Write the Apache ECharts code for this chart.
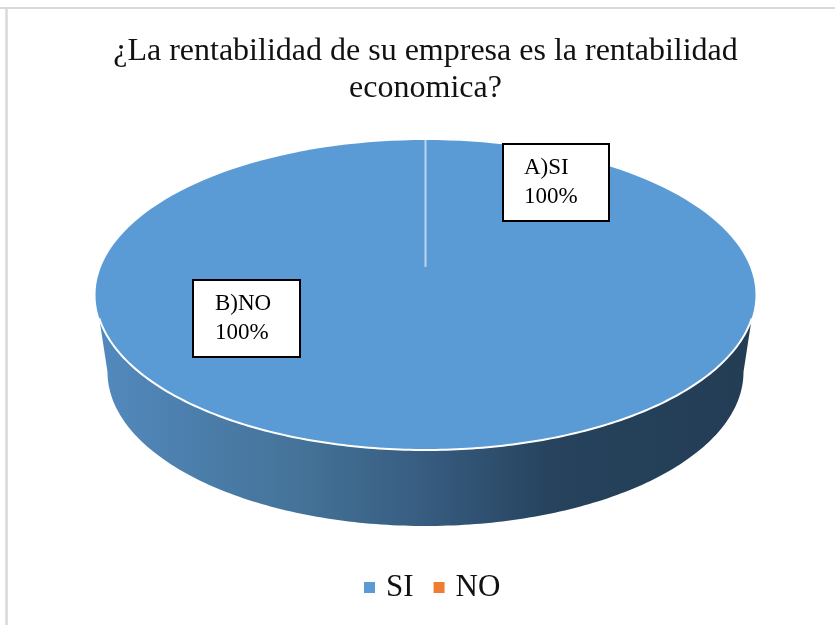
<!DOCTYPE html>
<html>
<head>
<meta charset="utf-8">
<script src="https://cdn.jsdelivr.net/npm/echarts@6/dist/echarts.min.js"></script>
<style>
  html, body { margin: 0; padding: 0; background: #fff; }
  #chart { width: 835px; height: 625px; }
</style>
</head>
<body>
<div id="chart"></div>
<script>
const titleText = '¿La rentabilidad de su empresa es la rentabilidad\neconomica?'
const categories = ['SI', 'NO']
const values = [100, 0]
const colors = ['#5b9bd5', '#ed7d31']
const boxLabels = ['A)SI\n100%', 'B)NO\n100%']

const serif = '"Liberation Serif", serif'
const total = values[0] + values[1]

// pie drawn with pixel geometry, ellipse for the 3D tilt
const cx = 425.5
const topCy = 295
const rxTop = 330
const ryTop = 155
const botCy = 372
const rxBot = 318
const ryBot = 154

function ringPoint(ccy, rx, ry, deg) {
  const a = (deg * Math.PI) / 180
  return [cx + rx * Math.cos(a), ccy + ry * Math.sin(a)]
}

function arcPoints(ccy, rx, ry, from, to) {
  const pts = []
  const steps = 180
  for (let i = 0; i <= steps; i++) {
    pts.push(ringPoint(ccy, rx, ry, from + ((to - from) * i) / steps))
  }
  return pts
}

function renderPie(params, api) {
  const idx = params.seriesIndex
  const val = api.value(0)
  if (!val) return { type: 'group', children: [] }
  const sweep = (val / total) * 360
  const top = arcPoints(topCy, rxTop, ryTop, -90, -90 + sweep)
  // front wall: lower edge of top ellipse + bottom ellipse back the other way
  const wall = arcPoints(topCy, rxTop, ryTop, 8.7, 171.3)
    .concat(arcPoints(botCy, rxBot, ryBot, 180, 0))
  const rim = arcPoints(topCy, rxTop, ryTop, 8.7, 171.3)
  return {
    type: 'group',
    children: [
      {
        type: 'polygon',
        shape: { points: wall },
        style: {
          fill: new echarts.graphic.LinearGradient(0, 0, 1, 0, [
            { offset: 0, color: '#5289bd' },
            { offset: 0.3, color: '#457399' },
            { offset: 0.5, color: '#375c80' },
            { offset: 0.7, color: '#26425c' },
            { offset: 1, color: '#233d55' }
          ])
        }
      },
      { type: 'polygon', shape: { points: top }, style: { fill: colors[idx] } },
      { type: 'polyline', shape: { points: rim }, style: { fill: 'none', stroke: '#fff', lineWidth: 2 } },
      {
        type: 'line',
        shape: { x1: cx, y1: topCy - ryTop, x2: cx, y2: 267 },
        style: { stroke: '#bcd5ec', lineWidth: 2 }
      }
    ]
  }
}

function labelBox(x, y, w, h, tx, text) {
  return {
    type: 'group',
    children: [
      { type: 'rect', shape: { x: x, y: y, width: w, height: h }, style: { fill: '#fff', stroke: '#000', lineWidth: 2 } },
      {
        type: 'text',
        style: { x: tx, y: y + 10, text: text, fill: '#000', font: '23px ' + serif, lineHeight: 28.5, textAlign: 'left', textVerticalAlign: 'top' }
      }
    ]
  }
}

const chart = echarts.init(document.getElementById('chart'), null, { renderer: 'canvas' })
chart.setOption({
  animation: false,
  backgroundColor: '#fff',
  title: {
    text: titleText,
    left: 420.5,
    textAlign: 'center',
    top: 28,
    textStyle: { fontFamily: serif, fontWeight: 'normal', fontSize: 32, lineHeight: 37, color: '#111' }
  },
  legend: {
    data: categories,
    left: 359,
    top: 567,
    icon: 'rect',
    itemWidth: 11,
    itemHeight: 11,
    itemGap: 20,
    textStyle: { fontFamily: serif, fontSize: 31, color: '#111', padding: [0, 0, 0, 6] }
  },
  graphic: [
    { type: 'line', shape: { x1: 0, y1: 8, x2: 835, y2: 8 }, style: { stroke: '#d9d9d9', lineWidth: 2 }, z: 0 },
    { type: 'line', shape: { x1: 6.5, y1: 8, x2: 6.5, y2: 625 }, style: { stroke: '#d9d9d9', lineWidth: 2.5 }, z: 0 }
  ],
  series: [
    {
      type: 'custom',
      name: categories[0],
      coordinateSystem: 'none',
      itemStyle: { color: colors[0] },
      renderItem: renderPie,
      data: [[values[0]]],
      silent: true
    },
    {
      type: 'custom',
      name: categories[1],
      coordinateSystem: 'none',
      itemStyle: { color: colors[1] },
      renderItem: renderPie,
      data: [[values[1]]],
      silent: true
    },
    {
      type: 'custom',
      name: 'etiquetas',
      coordinateSystem: 'none',
      z: 5,
      silent: true,
      renderItem: function (params) {
        if (params.dataIndex === 0) return labelBox(503, 144, 106, 77, 524, boxLabels[0])
        return labelBox(193, 280, 107, 77, 215, boxLabels[1])
      },
      data: [[0], [1]]
    }
  ]
})
</script>
</body>
</html>
